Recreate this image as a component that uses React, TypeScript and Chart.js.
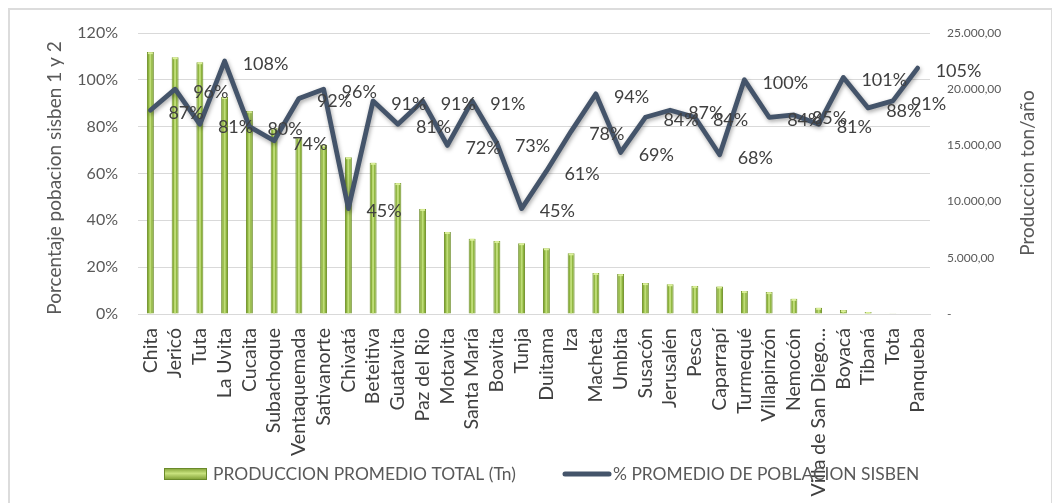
import React, { useEffect, useRef } from "react";
import { Chart, registerables } from "chart.js";

Chart.register(...registerables);

const categories = [
  "Chita", "Jericó", "Tuta", "La Uvita", "Cucaita", "Subachoque", "Ventaquemada",
  "Sativanorte", "Chivatá", "Beteitiva", "Guatavita", "Paz del Rio", "Motavita",
  "Santa María", "Boavita", "Tunja", "Duitama", "Iza", "Macheta", "Umbita",
  "Susacón", "Jerusalén", "Pesca", "Caparrapí", "Turmequé", "Villapinzón",
  "Nemocón", "Villa de San Diego...", "Boyacá", "Tibaná", "Tota", "Panqueba",
];

const produccion = [
  23300, 22850, 22400, 19300, 18050, 16550, 15750, 15050, 13950, 13450, 11650,
  9350, 7300, 6700, 6500, 6300, 5850, 5400, 3650, 3550, 2750, 2650, 2500, 2450,
  2050, 1950, 1350, 550, 350, 180, 20, 0,
];

const sisben = [
  87, 96, 81, 108, 80, 74, 92, 96, 45, 91, 81, 91, 72, 91, 73, 45, 61, 78, 94, 69,
  84, 87, 84, 68, 100, 84, 85, 81, 101, 88, 91, 105,
];

const barLabel = "PRODUCCION PROMEDIO TOTAL (Tn)";
const lineLabel = "% PROMEDIO DE POBLACION SISBEN";
const leftTitle = "Porcentaje pobacion sisben 1 y 2";
const rightTitle = "Produccion ton/año";

const FONT = "Lato, 'Noto Sans', sans-serif";

function fmtNum(v: number): string {
  if (v === 0) return "-";
  const s = Math.round(v).toString().replace(/\B(?=(\d{3})+(?!\d))/g, ".");
  return s + ",00";
}

const overlay = {
  id: "overlay",
  beforeDatasetDraw(chart: any, args: any) {
    if (args.index === 1) {
      const ctx = chart.ctx;
      ctx.save();
      ctx.shadowColor = "rgba(0,0,0,0.35)";
      ctx.shadowBlur = 4;
      ctx.shadowOffsetX = 1;
      ctx.shadowOffsetY = 2;
    }
  },
  afterDatasetDraw(chart: any, args: any) {
    const ctx = chart.ctx;
    if (args.index === 1) {
      ctx.restore();
      return;
    }
    if (args.index === 0) {
      const meta = chart.getDatasetMeta(0);
      ctx.save();
      meta.data.forEach((el: any) => {
        const p = el.getProps(["x", "y", "base", "width"], true);
        const h = p.base - p.y;
        if (h <= 0.5) return;
        ctx.fillStyle = "rgba(200,228,130,0.85)";
        ctx.fillRect(p.x - 1, p.y + 1, 2, Math.max(h - 1, 0));
        ctx.fillStyle = "rgba(225,245,160,0.9)";
        ctx.fillRect(p.x - p.width / 2 + 1, p.y, p.width - 2, Math.min(2, h));
      });
      ctx.restore();
    }
  },
  afterDraw(chart: any) {
    const ctx = chart.ctx;
    ctx.save();
    // data labels for the line
    const meta = chart.getDatasetMeta(1);
    ctx.font = `18px ${FONT}`;
    ctx.fillStyle = "#404040";
    ctx.textAlign = "left";
    ctx.textBaseline = "middle";
    meta.data.forEach((pt: any, i: number) => {
      const p = pt.getProps(["x", "y"], true);
      ctx.fillText(sisben[i] + "%", p.x + 18, p.y + 3);
    });

    // axis titles
    ctx.fillStyle = "#595959";
    ctx.font = `19px ${FONT}`;
    ctx.textAlign = "center";
    ctx.textBaseline = "middle";
    ctx.save();
    ctx.translate(45, 168);
    ctx.rotate(-Math.PI / 2);
    ctx.fillText(leftTitle, 0, 0);
    ctx.restore();
    ctx.save();
    ctx.translate(1018, 163);
    ctx.rotate(-Math.PI / 2);
    ctx.fillText(rightTitle, 0, 0);
    ctx.restore();

    // legend
    const sx = 154, sy = 458, sw = 43, sh = 12;
    const g = ctx.createLinearGradient(0, sy, 0, sy + sh);
    g.addColorStop(0, "#7f9f35");
    g.addColorStop(0.45, "#c8e27e");
    g.addColorStop(1, "#7a9a30");
    ctx.fillStyle = g;
    ctx.fillRect(sx, sy, sw, sh);
    ctx.strokeStyle = "#6a8a2a";
    ctx.lineWidth = 1;
    ctx.strokeRect(sx + 0.5, sy + 0.5, sw - 1, sh - 1);

    ctx.font = `17.4px ${FONT}`;
    ctx.fillStyle = "#595959";
    ctx.textAlign = "left";
    ctx.textBaseline = "middle";
    ctx.fillText(barLabel, 203, 464);

    ctx.strokeStyle = "#44546a";
    ctx.lineWidth = 5;
    ctx.lineCap = "round";
    ctx.beginPath();
    ctx.moveTo(555, 464);
    ctx.lineTo(599, 464);
    ctx.stroke();
    ctx.fillText(lineLabel, 603, 464);
    ctx.restore();
  },
};

export default function App() {
  const ref = useRef<HTMLCanvasElement | null>(null);

  useEffect(() => {
    if (!ref.current) return;
    const chart = new Chart(ref.current, {
      type: "bar",
      data: {
        labels: categories,
        datasets: [
          {
            type: "bar",
            label: barLabel,
            data: produccion,
            yAxisID: "y1",
            backgroundColor: "#8cb23c",
            borderColor: "#6b8c26",
            borderWidth: 1,
            barPercentage: 0.28,
            categoryPercentage: 1,
            order: 1,
          } as any,
          {
            type: "line",
            label: lineLabel,
            data: sisben,
            yAxisID: "y",
            borderColor: "#44546a",
            borderWidth: 4.8,
            pointRadius: 0,
            tension: 0,
            fill: false,
            borderJoinStyle: "round",
            borderCapStyle: "round",
            order: 0,
          } as any,
        ],
      },
      options: {
        animation: false,
        responsive: true,
        maintainAspectRatio: false,
        layout: { padding: { top: 23, left: 0, right: 0, bottom: 0 } },
        font: { family: FONT },
        plugins: {
          legend: { display: false },
          tooltip: { enabled: false },
        },
        scales: {
          x: {
            type: "category",
            offset: true,
            grid: { display: false, drawTicks: false },
            border: { display: true, color: "#d9d9d9" },
            ticks: {
              autoSkip: false,
              maxRotation: 90,
              minRotation: 90,
              padding: 14,
              color: "#404040",
              font: { family: FONT, size: 19.5 },
            },
            afterFit: (s: any) => {
              s.height = 189;
            },
          },
          y: {
            position: "left",
            min: 0,
            max: 120,
            grid: {
              color: "#d9d9d9",
              drawTicks: true,
              tickLength: 20,
              tickColor: "rgba(0,0,0,0)",
            },
            border: { display: false },
            ticks: {
              stepSize: 20,
              padding: 0,
              color: "#595959",
              font: { family: FONT, size: 16 },
              callback: (v: any) => v + "%",
            },
            afterFit: (s: any) => {
              s.width = 128;
            },
          },
          y1: {
            position: "right",
            min: 0,
            max: 25000,
            grid: {
              display: true,
              drawOnChartArea: false,
              color: "rgba(0,0,0,0)",
              drawTicks: true,
              tickLength: 17,
              tickColor: "rgba(0,0,0,0)",
            },
            border: { display: false },
            ticks: {
              stepSize: 5000,
              padding: 0,
              color: "#595959",
              font: { family: FONT, size: 12 },
              callback: (v: any) => fmtNum(Number(v)),
            },
            afterFit: (s: any) => {
              s.width = 121;
            },
          },
        },
      } as any,
      plugins: [overlay],
    });
    return () => chart.destroy();
  }, []);

  return (
    <div
      style={{
        width: 1041,
        height: 493,
        border: "2px solid #dcdcdc",
        borderBottom: "none",
        position: "relative",
        background: "#fff",
      }}
    >
      <canvas ref={ref} />
    </div>
  );
}
